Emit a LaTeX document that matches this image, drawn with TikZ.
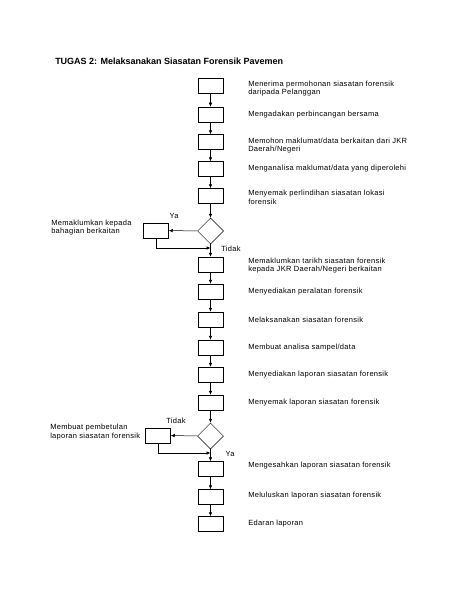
\documentclass[tikz,border=0pt]{standalone}
\usepackage{fontspec}
\setmainfont{Liberation Sans}
\newfontfamily\stepfont[LetterSpace=4]{Liberation Sans}
\usepackage{tikz}
\usetikzlibrary{arrows.meta,positioning,shapes.geometric}

\begin{document}
\begin{tikzpicture}[x=1pt, y=-1pt, >={Latex[length=4pt,width=3.5pt]}, line width=0.5pt,
    stepbox/.style={rectangle, draw, minimum width=25pt, minimum height=15pt, inner sep=0pt},
    decision/.style={diamond, draw, shape aspect=1, minimum size=26pt, inner sep=0pt},
    desc/.style={anchor=west, align=left, inner sep=0pt, font=\stepfont\fontsize{7.5}{8.5}\selectfont},
    tag/.style={inner sep=0pt, font=\stepfont\fontsize{7.5}{9}\selectfont}]
    \useasboundingbox (0,0) rectangle (463,599);
    % title
    \node[anchor=west, inner sep=0pt, font=\fontsize{9}{10}\selectfont\bfseries] (title) at (55,61) {TUGAS 2: Melaksanakan Siasatan Forensik Pavemen};
    % main chain
    \node[stepbox] (b1) at (210.5,85.5) {};
    \node[stepbox] (b2) at (210.5,114.5) {};
    \node[stepbox] (b3) at (210.5,142) {};
    \node[stepbox] (b4) at (210.5,169) {};
    \node[stepbox] (b5) at (210.5,196) {};
    \node[decision] (d1) at (210.5,231) {};
    \node[stepbox] (ya1) at (156,230.5) {};
    \node[stepbox] (b6) at (210.5,264.5) {};
    \node[stepbox] (b7) at (210.5,291.5) {};
    \node[stepbox] (b8) at (210.5,319.5) {};
    \node[stepbox] (b9) at (210.5,347.5) {};
    \node[stepbox] (b10) at (210.5,374.5) {};
    \node[stepbox] (b11) at (210.5,402.5) {};
    \node[decision] (d2) at (210.5,436) {};
    \node[stepbox] (tidak2) at (158,435.5) {};
    \node[stepbox] (b12) at (210.5,469) {};
    \node[stepbox] (b13) at (210.5,497) {};
    \node[stepbox] (b14) at (210.5,524) {};
    \coordinate (m1) at (210.5,248);
    \coordinate (m2) at (210.5,453);
    % descriptions
    \node[desc] (t1) at (248,88.5) {Menerima permohonan siasatan forensik\\daripada Pelanggan};
    \node[desc] (t2) at (248,114.5) {Mengadakan perbincangan bersama};
    \node[desc] (t3) at (248,145.5) {Memohon maklumat/data berkaitan dari JKR\\Daerah/Negeri};
    \node[desc] (t4) at (248,169) {Menganalisa maklumat/data yang diperolehi};
    \node[desc] (t5) at (248,197.5) {Menyemak perlindihan siasatan lokasi\\forensik};
    \node[desc] (t6) at (248,265.5) {Memaklumkan tarikh siasatan forensik\\kepada JKR Daerah/Negeri berkaitan};
    \node[desc] (t7) at (248,291.5) {Menyediakan peralatan forensik};
    \node[desc] (t8) at (248,319.5) {Melaksanakan siasatan forensik};
    \node[desc] (t9) at (248,347.5) {Membuat analisa sampel/data};
    \node[desc] (t10) at (248,374.5) {Menyediakan laporan siasatan forensik};
    \node[desc] (t11) at (248,402.5) {Menyemak laporan siasatan forensik};
    \node[desc] (t12) at (248,466) {Mengesahkan laporan siasatan forensik};
    \node[desc] (t13) at (248,496) {Meluluskan laporan siasatan forensik};
    \node[desc] (t14) at (248,524) {Edaran laporan};
    \node[desc] (tya1) at (51,227.5) {Memaklumkan kepada\\bahagian berkaitan};
    \node[desc] (ttidak2) at (50,432) {Membuat pembetulan\\laporan siasatan forensik};
    % branch labels
    \node[tag] (ya) at (174,216) {Ya};
    \node[tag] (tidak) at (231,249) {Tidak};
    \node[tag] (tidakb) at (176,421) {Tidak};
    \node[tag] (yab) at (230,454) {Ya};
    % connectors
    \draw[->] (b1) -- (b2);
    \draw[->] (b2) -- (b3);
    \draw[->] (b3) -- (b4);
    \draw[->] (b4) -- (b5);
    \draw[->] (b5) -- (d1);
    \draw[->] (d1) -- (ya1);
    \draw[->] (d1) -- (b6);
    \draw[->] (ya1.south) |- (m1);
    \draw[->] (b6) -- (b7);
    \draw[->] (b7) -- (b8);
    \draw[->] (b8) -- (b9);
    \draw[->] (b9) -- (b10);
    \draw[->] (b10) -- (b11);
    \draw[->] (b11) -- (d2);
    \draw[->] (d2) -- (tidak2);
    \draw[->] (d2) -- (b12);
    \draw[->] (tidak2.south) |- (m2);
    \draw[->] (b12) -- (b13);
    \draw[->] (b13) -- (b14);
\end{tikzpicture}
\end{document}
